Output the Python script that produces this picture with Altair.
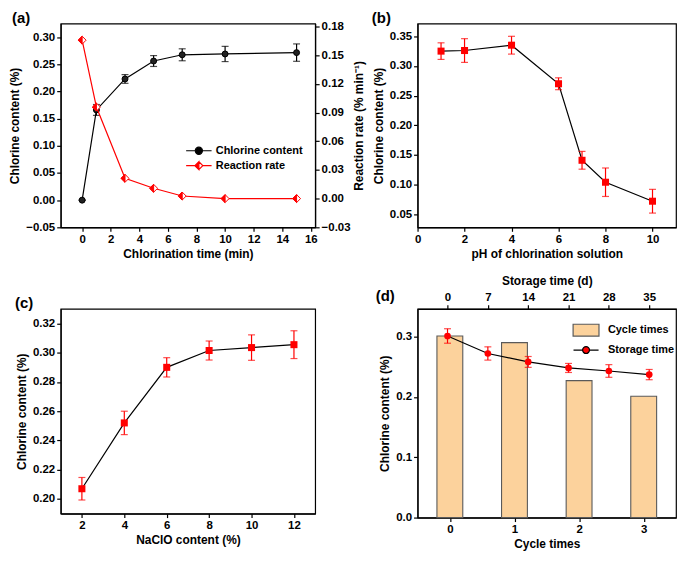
import altair as alt
import pandas as pd

FONT = "Liberation Sans"
RED = "#ff0000"
BAR_FILL = "#fcd29c"
BAR_STROKE = "#5a5a5a"

panel_labels = ["(a)", "(b)", "(c)", "(d)"]

# (a) chlorination time
time_min = [0, 1, 3, 5, 7, 10, 15]
chlorine_a = [0.0, 0.166, 0.223, 0.256, 0.2675, 0.269, 0.2715]
chlorine_a_err = [0.0, 0.010, 0.008, 0.010, 0.011, 0.014, 0.016]
reaction_rate = [0.1656, 0.0957, 0.0212, 0.0108, 0.0027, 0.0, 0.0]
series_a = ["Chlorine content", "Reaction rate"]

# (b) pH
ph = [1, 2, 4, 6, 7, 8, 10]
chlorine_b = [0.325, 0.326, 0.335, 0.270, 0.141, 0.104, 0.072]
chlorine_b_err = [0.014, 0.020, 0.015, 0.010, 0.015, 0.024, 0.020]

# (c) NaClO content
naclo = [2, 4, 6, 8, 10, 12]
chlorine_c = [0.207, 0.252, 0.290, 0.3015, 0.3035, 0.3055]
chlorine_c_err = [0.0077, 0.008, 0.0066, 0.0065, 0.0087, 0.0095]

# (d) cycle / storage
cycle_times = [0, 1, 2, 3]
chlorine_cycle = [0.301, 0.290, 0.227, 0.201]
storage_days = [0, 7, 14, 21, 28, 35]
chlorine_storage = [0.301, 0.272, 0.258, 0.248, 0.243, 0.237]
chlorine_storage_err = [0.012, 0.011, 0.009, 0.0075, 0.0105, 0.0085]
series_d = ["Cycle times", "Storage time"]

# custom symbol paths
DIAMOND = "M0,-1L1,0L0,1L-1,0Z"
LEFT_HALF = "M0,-1L-1,0L0,1Z"
CIRCLE_LINE = ("M-1.6,0H-0.45M0.45,0H1.6"
               "M-0.45,0A0.45,0.45 0 1,0 0.45,0A0.45,0.45 0 1,0 -0.45,0Z")
HALF_DIAMOND_LINE = ("M-1.6,0H-0.5M0.5,0H1.6"
                     "M0,-0.5L-0.5,0L0,0.5Z"
                     "M0,-0.5L0.5,0M0.5,0L0,0.5")
RECT = "M-1.24,-0.57H1.24V0.57H-1.24Z"
DOT_LINE = ("M-1.2,0H-0.33M0.33,0H1.2"
            "M-0.33,0A0.33,0.33 0 1,0 0.33,0A0.33,0.33 0 1,0 -0.33,0Z")

ERR_TICKS = {"size": 7, "thickness": 1.2}


def panel_label(text, x, y):
    return alt.Chart(pd.DataFrame({"lab": [text]})).mark_text(
        align="left", baseline="top", font=FONT, fontSize=15,
        fontWeight="bold", color="black"
    ).encode(x=alt.value(x), y=alt.value(y), text="lab:N")


def legend_def(x, y, size, offset):
    return alt.Legend(
        title=None, orient="none", legendX=x, legendY=y, symbolSize=size,
        symbolStrokeWidth=1.2, labelOffset=offset, rowPadding=0,
        labelFont=FONT, labelFontSize=11, labelFontWeight="bold",
        labelColor="black", symbolOpacity=1, padding=0,
    )


def legend_layer(series, fills, strokes, shapes, leg):
    return alt.Chart(pd.DataFrame({"s": series})).mark_point(
        filled=True, opacity=0
    ).encode(
        x=alt.value(0), y=alt.value(0),
        fill=alt.Fill("s:N", scale=alt.Scale(domain=series, range=fills), legend=leg),
        stroke=alt.Stroke("s:N", scale=alt.Scale(domain=series, range=strokes), legend=leg),
        shape=alt.Shape("s:N", scale=alt.Scale(domain=series, range=shapes), legend=leg),
    )


# ---------- panel (a) ----------
W1, H1 = 256, 205
da = pd.DataFrame({"t": time_min, "cl": chlorine_a, "err": chlorine_a_err,
                   "rate": reaction_rate})
xa = alt.X("t:Q", scale=alt.Scale(domain=[-1.5, 16.3], nice=False, zero=False),
           axis=alt.Axis(values=[0, 2, 4, 6, 8, 10, 12, 14, 16], format="d",
                         title="Chlorination time (min)"))
ya = alt.Y("cl:Q", scale=alt.Scale(domain=[-0.05, 0.325], nice=False, zero=False),
           axis=alt.Axis(values=[-0.05, 0.0, 0.05, 0.1, 0.15, 0.2, 0.25, 0.3],
                         format=".2f", title="Chlorine content (%)"))
yr = alt.Y("rate:Q", scale=alt.Scale(domain=[-0.03, 0.183], nice=False, zero=False),
           axis=alt.Axis(values=[-0.03, 0.0, 0.03, 0.06, 0.09, 0.12, 0.15, 0.18],
                         format=".2f", title="Reaction rate (% min⁻¹)",
                         orient="right", titleAngle=270, titleBaseline="top"))
ba = alt.Chart(da)
left_a = alt.layer(
    ba.mark_line(color="black", strokeWidth=1.2).encode(x=xa, y=ya),
    ba.mark_errorbar(ticks=ERR_TICKS, thickness=1.2, color="black").encode(
        x=xa, y=ya, yError="err:Q"),
    ba.mark_point(shape="circle", filled=True, size=36, fill="#222222",
                  stroke="black", strokeWidth=1, opacity=1).encode(x=xa, y=ya),
)
right_a = alt.layer(
    ba.mark_line(color=RED, strokeWidth=1.2).encode(x=xa, y=yr),
    ba.mark_point(shape=DIAMOND, filled=True, size=64, fill="white", stroke=RED,
                  strokeWidth=1, opacity=1).encode(x=xa, y=yr),
    ba.mark_point(shape=LEFT_HALF, filled=True, size=64, fill=RED, stroke=RED,
                  strokeWidth=1, opacity=1).encode(x=xa, y=yr),
)
leg_a = legend_layer(series_a, ["black", RED], ["black", RED],
                     [CIRCLE_LINE, HALF_DIAMOND_LINE],
                     legend_def(130, 119, 256, 8))
pa = alt.layer(left_a, right_a, leg_a, panel_label(panel_labels[0], -49, -13)
               ).resolve_scale(y="independent").properties(width=W1, height=H1)


# ---------- panels (b), (c) ----------
def simple_panel(xvals, yvals, errs, xdomain, xticks, xtitle, ydomain, yticks,
                 label, lx, w, h):
    df = pd.DataFrame({"x": xvals, "y": yvals, "e": errs})
    xe = alt.X("x:Q", scale=alt.Scale(domain=xdomain, nice=False, zero=False),
               axis=alt.Axis(values=xticks, format="d", title=xtitle))
    ye = alt.Y("y:Q", scale=alt.Scale(domain=ydomain, nice=False, zero=False),
               axis=alt.Axis(values=yticks, format=".2f",
                             title="Chlorine content (%)"))
    b = alt.Chart(df)
    return alt.layer(
        b.mark_line(color="black", strokeWidth=1.2).encode(x=xe, y=ye),
        b.mark_errorbar(ticks=ERR_TICKS, thickness=1.2, color=RED).encode(
            x=xe, y=ye, yError="e:Q"),
        b.mark_point(shape="square", filled=True, size=50, color=RED,
                     opacity=1).encode(x=xe, y=ye),
        panel_label(label, lx, -13),
    ).properties(width=w, height=h)


pb = simple_panel(ph, chlorine_b, chlorine_b_err, [0, 11], [0, 2, 4, 6, 8, 10],
                  "pH of chlorination solution", [0.028, 0.3715],
                  [0.05, 0.1, 0.15, 0.2, 0.25, 0.3, 0.35], panel_labels[1], -46,
                  260, H1)

pc = simple_panel(naclo, chlorine_c, chlorine_c_err, [1, 13], [2, 4, 6, 8, 10, 12],
                  "NaClO content (%)", [0.19, 0.33],
                  [0.2, 0.22, 0.24, 0.26, 0.28, 0.3, 0.32], panel_labels[2], -46,
                  W1, 206)

# ---------- panel (d) ----------
dc = pd.DataFrame({"cycle": cycle_times, "val": chlorine_cycle})
ds = pd.DataFrame({"day": storage_days, "val": chlorine_storage,
                   "err": chlorine_storage_err})
yd = alt.Y("val:Q", scale=alt.Scale(domain=[0, 0.346], nice=False),
           axis=alt.Axis(values=[0.0, 0.1, 0.2, 0.3], format=".1f",
                         title="Chlorine content (%)"))
bars = alt.Chart(dc).transform_calculate(
    lo="datum.cycle - 0.2", hi="datum.cycle + 0.2"
).mark_bar(fill=BAR_FILL, stroke=BAR_STROKE, strokeWidth=1.1, opacity=1).encode(
    x=alt.X("lo:Q", scale=alt.Scale(domain=[-0.5, 3.5], nice=False, zero=False),
            axis=alt.Axis(values=[0, 1, 2, 3], format="d", title="Cycle times")),
    x2="hi:Q",
    y=yd,
    y2=alt.datum(0),
)
xs = alt.X("day:Q", scale=alt.Scale(domain=[-5.2, 39.65], nice=False, zero=False),
           axis=alt.Axis(values=[0, 7, 14, 21, 28, 35], format="d",
                         title="Storage time (d)", orient="top"))
bs = alt.Chart(ds)
storage = alt.layer(
    bs.mark_line(color="black", strokeWidth=1.2).encode(x=xs, y=yd),
    bs.mark_errorbar(ticks=ERR_TICKS, thickness=1.2, color=RED).encode(
        x=xs, y=yd, yError="err:Q"),
    bs.mark_point(shape="circle", filled=True, size=45, color=RED,
                  opacity=1).encode(x=xs, y=yd),
)
leg_d = legend_layer(series_d, [BAR_FILL, RED], [BAR_STROKE, "black"],
                     [RECT, DOT_LINE], legend_def(158, 10, 441, 10.5))
pd_ = alt.layer(bars, storage, leg_d, panel_label(panel_labels[3], -42, -20)
                ).resolve_scale(x="independent").properties(width=260, height=210)

chart = alt.concat(
    pa, pb, pc, pd_, columns=2, spacing={"row": 82, "column": 103},
    bounds="flush", padding=0,
).resolve_scale(
    fill="independent", stroke="independent", shape="independent"
).configure_view(
    stroke="black", strokeWidth=1.2
).configure_axis(
    domainColor="black", domainWidth=1.2, tickColor="black", tickWidth=1.2,
    tickSize=4, labelFont=FONT, labelFontSize=11.5, labelFontWeight="bold",
    labelColor="black", titleFont=FONT, titleFontSize=12,
    titleFontWeight="bold", titleColor="black", grid=False, labelPadding=2,
    titlePadding=4, labelFlush=False, labelOverlap=False,
)

chart.save("out.html", embed_options={"renderer": "svg", "actions": False})
